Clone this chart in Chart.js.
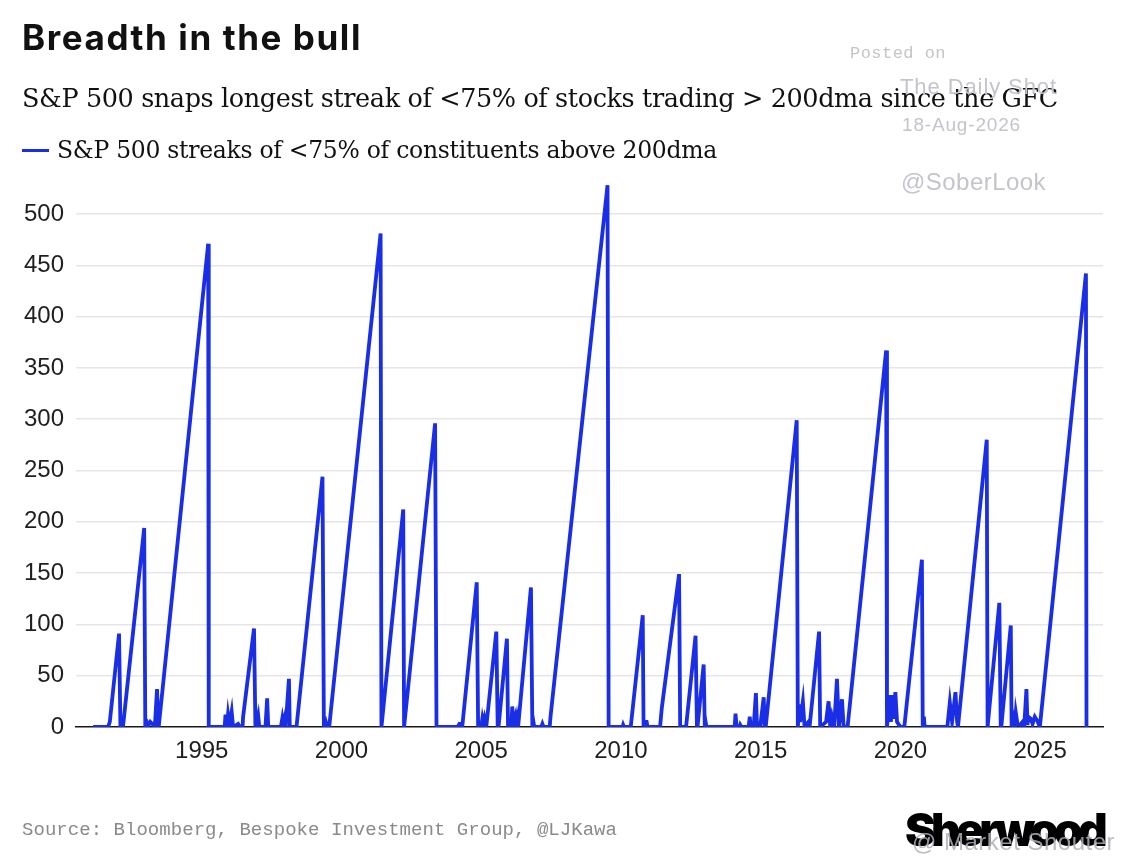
<!DOCTYPE html>
<html>
<head>
<meta charset="utf-8">
<script src="https://cdn.jsdelivr.net/npm/chart.js@4.4.1/dist/chart.umd.min.js"></script>
<style>
html,body{margin:0;padding:0;background:#fff;}
body{width:1124px;height:863px;position:relative;overflow:hidden;}
#wrap{position:absolute;left:0;top:0;width:1124px;height:863px;}
.t{position:absolute;white-space:nowrap;line-height:1;}
#title{left:22px;top:16px;font:700 35px Inter,"Liberation Sans",Arial,sans-serif;color:#111;}
#sub{left:22px;top:83px;font:25.5px "DejaVu Serif","Liberation Serif",serif;color:#111;}
#leg{left:57px;top:136px;font:23.5px "DejaVu Serif","Liberation Serif",serif;color:#111;}
#legline{position:absolute;left:22px;top:148.5px;width:27px;height:3.5px;background:#1a2ee6;}
#src{left:22px;top:819px;font:19px "Liberation Mono","DejaVu Sans Mono",monospace;color:#8a8a8a;}
#posted{left:850px;top:44px;font:17px "Liberation Mono","DejaVu Sans Mono",monospace;color:#c4c4c8;}
#tds{left:900px;top:74px;font:22px "Liberation Sans",Arial,sans-serif;color:#c4c4cc;}
#date{left:902px;top:114px;font:19px "Liberation Sans",Arial,sans-serif;color:#c4c4cc;}
#sober{left:901px;top:168px;font:24px "Liberation Sans",Arial,sans-serif;color:#c4c4cc;}
#sher{left:905px;top:801px;font:900 46px Inter,"Liberation Sans",Arial,sans-serif;color:#000;}
#ms{left:912px;top:828px;font:24px "Liberation Sans",Arial,sans-serif;color:rgba(175,175,185,0.85);}
</style>
</head>
<body>
<div id="wrap"><canvas id="c" width="1124" height="863"></canvas></div>
<div class="t" id="title" data-w="340">Breadth in the bull</div>
<div class="t" id="sub" data-w="1036">S&amp;P 500 snaps longest streak of &lt;75% of stocks trading &gt; 200dma since the GFC</div>
<div id="legline"></div>
<div class="t" id="leg" data-w="660">S&amp;P 500 streaks of &lt;75% of constituents above 200dma</div>
<div class="t" id="posted" data-w="96">Posted on</div>
<div class="t" id="tds" data-w="157">The Daily Shot</div>
<div class="t" id="date" data-w="119">18-Aug-2026</div>
<div class="t" id="sober" data-w="145">@SoberLook</div>
<div class="t" id="src" data-w="595">Source: Bloomberg, Bespoke Investment Group, @LJKawa</div>
<div class="t" id="sher" data-w="198">Sherwood</div>
<div class="t" id="ms" data-w="203">@ Market Shouter</div>
<script>
// ---- data ----
const seriesName = "S&P 500 streaks of <75% of constituents above 200dma";
const xTickYears = [1995, 2000, 2005, 2010, 2015, 2020, 2025];
const yTickStep = 50;
const dateYears = [
1991.11,1991.65,1991.71,1992.04,1992.09,1992.18,1992.94,1992.98,1993.04,1993.10,1993.16,1993.23,1993.32,1993.40,1993.44,1993.46,
1995.23,1995.25,1995.82,1995.85,1995.90,1995.94,1995.99,1996.07,1996.12,1996.30,1996.36,1996.46,1996.48,1996.87,1996.92,1996.96,
1996.99,1997.03,1997.06,1997.28,1997.34,1997.38,1997.83,1997.88,1997.91,1997.96,1998.00,1998.12,1998.15,1998.39,1999.32,1999.37,
1999.44,1999.49,1999.56,2001.40,2001.43,2002.21,2002.24,2002.27,2003.35,2003.40,2004.16,2004.22,2004.29,2004.32,2004.84,2004.89,
2005.00,2005.04,2005.08,2005.12,2005.18,2005.54,2005.59,2005.62,2005.92,2005.96,2006.04,2006.08,2006.11,2006.16,2006.21,2006.24,
2006.28,2006.32,2006.78,2006.83,2006.87,2006.90,2007.15,2007.19,2007.23,2007.45,2007.48,2009.52,2009.56,2010.06,2010.08,2010.11,
2010.35,2010.78,2010.81,2010.84,2010.92,2010.95,2011.40,2011.46,2012.08,2012.12,2012.33,2012.67,2012.72,2012.74,2012.96,2013.00,
2013.03,2013.06,2014.07,2014.10,2014.14,2014.25,2014.27,2014.31,2014.57,2014.61,2014.64,2014.75,2014.83,2014.87,2014.99,2015.11,
2015.14,2015.18,2016.29,2016.33,2016.38,2016.41,2016.51,2016.57,2016.71,2016.75,2017.09,2017.13,2017.34,2017.43,2017.49,2017.55,
2017.63,2017.73,2017.80,2017.91,2017.97,2018.11,2019.49,2019.52,2019.62,2019.66,2019.70,2019.76,2019.82,2019.88,2020.00,2020.14,
2020.77,2020.80,2020.84,2020.87,2021.68,2021.77,2021.85,2021.97,2022.03,2022.06,2023.09,2023.12,2023.54,2023.59,2023.61,2023.95,
2023.98,2024.04,2024.09,2024.13,2024.19,2024.28,2024.37,2024.43,2024.51,2024.55,2024.58,2024.67,2024.73,2024.81,2024.90,2024.99,
2026.64,2026.66
];
const streakDays = [
0,0,5,91,0,0,194,0,5,2,5,3,0,37,3,0,
471,0,0,12,0,12,2,15,0,3,0,0,10,96,0,8,
0,8,0,0,28,0,0,8,2,8,0,47,0,0,244,0,
5,0,0,481,0,212,0,0,296,0,0,3,3,0,141,0,
0,8,2,8,0,93,0,0,86,0,5,0,20,2,8,0,
8,0,136,0,5,0,0,3,0,0,10,528,0,0,2,0,
0,109,0,5,5,0,0,18,149,0,0,89,0,0,61,0,
5,0,0,13,0,0,2,0,0,10,0,0,33,0,2,29,
0,0,299,0,22,5,25,0,5,0,93,0,5,25,0,10,
0,47,0,27,0,0,367,0,31,5,31,8,34,5,0,0,
163,0,10,0,0,24,5,34,5,0,280,0,121,0,0,99,
0,8,0,14,3,2,5,0,37,2,10,8,3,10,6,0,
442,0
];

// fit text widths to the reference
document.querySelectorAll('[data-w]').forEach(el => {
  const target = +el.dataset.w;
  const n = el.textContent.length;
  const w = el.getBoundingClientRect().width;
  el.style.letterSpacing = ((target - w) / n) + 'px';
});

const tickFont = {family: '"Liberation Sans", Arial, sans-serif', size: 24};
new Chart(document.getElementById('c'), {
  type: 'line',
  data: {
    datasets: [{
      label: seriesName,
      data: dateYears.map((x, i) => ({x: x, y: streakDays[i]})),
      borderColor: '#1a2ee6',
      borderWidth: 3.8,
      pointRadius: 0,
      tension: 0,
      fill: false
    }]
  },
  options: {
    responsive: false,
    animation: false,
    layout: {padding: {left: 0, right: 21, top: 173, bottom: 86}},
    plugins: {legend: {display: false}, tooltip: {enabled: false}},
    scales: {
      x: {
        type: 'linear',
        min: 1990.5,
        max: 2027.25,
        grid: {display: false, drawTicks: false},
        border: {display: true, color: '#1a1a1a', width: 1.5},
        ticks: {
          font: tickFont, color: '#1f1f1f', padding: 10,
          autoSkip: false, maxRotation: 0,
          callback: v => String(v)
        },
        afterBuildTicks: s => { s.ticks = xTickYears.map(v => ({value: v})); },
        afterFit: s => { s.height = 50; }
      },
      y: {
        min: 0,
        max: 540,
        grid: {color: ctx => ctx.tick && ctx.tick.value === 0 ? 'rgba(0,0,0,0)' : '#e6e6e6', lineWidth: 1.5, drawTicks: false},
        border: {display: false},
        ticks: {stepSize: yTickStep, includeBounds: false, font: tickFont, color: '#1f1f1f', padding: 12},
        afterFit: s => { s.width = 76; }
      }
    }
  }
});
</script>
</body>
</html>
